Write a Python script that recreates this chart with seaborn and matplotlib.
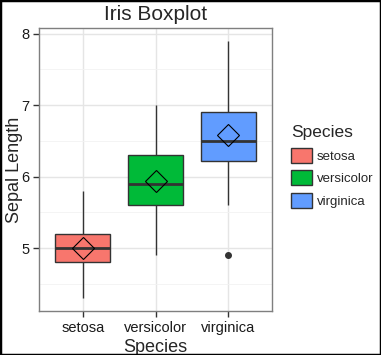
import pandas as pd
import matplotlib
matplotlib.use("Agg")
import matplotlib.pyplot as plt
import seaborn as sns
from matplotlib.patches import Rectangle
from matplotlib.ticker import MultipleLocator

# iris sepal lengths, 50 flowers per species
setosa = [5.1, 4.9, 4.7, 4.6, 5.0, 5.4, 4.6, 5.0, 4.4, 4.9, 5.4, 4.8, 4.8, 4.3, 5.8, 5.7, 5.4,
          5.1, 5.7, 5.1, 5.4, 5.1, 4.6, 5.1, 4.8, 5.0, 5.0, 5.2, 5.2, 4.7, 4.8, 5.4, 5.2, 5.5,
          4.9, 5.0, 5.5, 4.9, 4.4, 5.1, 5.0, 4.5, 4.4, 5.0, 5.1, 4.8, 5.1, 4.6, 5.3, 5.0]
versicolor = [7.0, 6.4, 6.9, 5.5, 6.5, 5.7, 6.3, 4.9, 6.6, 5.2, 5.0, 5.9, 6.0, 6.1, 5.6, 6.7, 5.6,
              5.8, 6.2, 5.6, 5.9, 6.1, 6.3, 6.1, 6.4, 6.6, 6.8, 6.7, 6.0, 5.7, 5.5, 5.5, 5.8, 6.0,
              5.4, 6.0, 6.7, 6.3, 5.6, 5.5, 5.5, 6.1, 5.8, 5.0, 5.6, 5.7, 5.7, 6.2, 5.1, 5.7]
virginica = [6.3, 5.8, 7.1, 6.3, 6.5, 7.6, 4.9, 7.3, 6.7, 7.2, 6.5, 6.4, 6.8, 5.7, 5.8, 6.4, 6.5,
             7.7, 7.7, 6.0, 6.9, 5.6, 7.7, 6.3, 6.7, 7.2, 6.2, 6.1, 6.4, 7.2, 7.4, 7.9, 6.4, 6.3,
             6.1, 7.7, 6.3, 6.4, 6.0, 6.9, 6.7, 6.9, 5.8, 6.8, 6.7, 6.7, 6.3, 6.5, 6.2, 5.9]
species = ["setosa", "versicolor", "virginica"]
colors = ["#F8766D", "#00BA38", "#619CFF"]

df = pd.DataFrame({
    "Species": ["setosa"] * len(setosa) + ["versicolor"] * len(versicolor) + ["virginica"] * len(virginica),
    "Sepal.Length": setosa + versicolor + virginica,
})

sns.set_theme(style="white")
plt.rcParams["font.family"] = ["Liberation Sans", "DejaVu Sans"]

fig = plt.figure(figsize=(3.81, 3.55), dpi=100)
ax = fig.add_axes([39 / 381, 44 / 355, 233 / 381, 283 / 355])

sns.boxplot(data=df, x="Species", y="Sepal.Length", hue="Species", order=species,
            hue_order=species, palette=colors, width=0.75, linecolor="#333333", linewidth=1,
            saturation=1, dodge=False, legend=True, ax=ax,
            capprops=dict(linewidth=0),
            medianprops=dict(linewidth=2, color="#333333"),
            flierprops=dict(marker="o", markerfacecolor="#333333", markeredgecolor="#333333", markersize=4),
            showmeans=True,
            meanprops=dict(marker="D", markerfacecolor="none", markeredgecolor="black",
                           markersize=11, markeredgewidth=0.8))

ax.set_xlim(-0.6, 2.6)
ax.set_ylim(4.12, 8.08)
ax.yaxis.set_major_locator(MultipleLocator(1))
ax.yaxis.set_minor_locator(MultipleLocator(0.5))
ax.grid(which="major", color="#e5e5e5", linewidth=1)
ax.grid(which="minor", axis="y", color="#f2f2f2", linewidth=0.6)
ax.set_axisbelow(True)
for s in ax.spines.values():
    s.set_color("#7f7f7f")
    s.set_linewidth(1)
ax.tick_params(axis="both", which="major", length=4, width=1, color="#333333",
               labelsize=10.5, labelcolor="#1a1a1a", bottom=True, left=True, pad=3)
ax.tick_params(axis="both", which="minor", length=0)

ax.set_xlabel("Species", fontsize=13)
ax.set_ylabel("Sepal Length", fontsize=13)
ax.xaxis.set_label_coords(0.5, -0.1)
ax.yaxis.set_label_coords(-0.07, 0.5)
ax.set_title("Iris Boxplot", fontsize=15, pad=6)

sns.move_legend(ax, "center left", bbox_to_anchor=(1.03, 0.51), frameon=False,
                title="Species", fontsize=9.5, title_fontsize=12.5,
                handlelength=1.6, handleheight=1.4, handletextpad=0.35, labelspacing=0.55,
                alignment="left")
for h in ax.get_legend().legend_handles:
    h.set_edgecolor("#333333")
    h.set_linewidth(1)

fig.patches.append(Rectangle((0, 0), 1, 1, transform=fig.transFigure, fill=False,
                             edgecolor="black", linewidth=2.5))

fig.savefig("out.png", dpi=100)
